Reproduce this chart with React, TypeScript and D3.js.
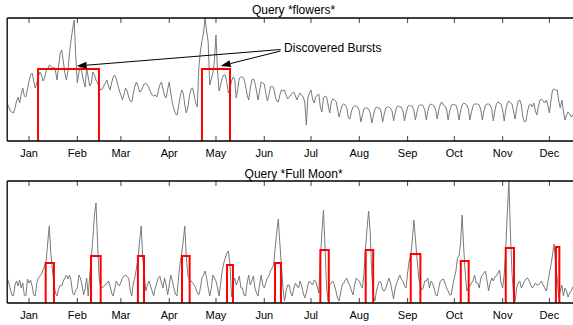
import React from 'react';
import * as d3 from 'd3';

const START = Date.UTC(2001, 11, 18);
const DAY = 864e5;

const monthStart = Date.UTC(2002, 0, 1);
const monthEnd = Date.UTC(2003, 0, 1);

const flowersTitle = 'Query *flowers*';
const moonTitle = 'Query *Full Moon*';
const annotationText = 'Discovered Bursts';

const flowers = [
  38, 34, 30, 29, 28, 33, 40, 44, 38, 47,
  53, 45, 44, 52, 60, 66, 68, 60, 53, 58,
  65, 69, 66, 60, 63, 70, 72, 76, 75, 72,
  74, 70, 61, 75, 88, 91, 80, 68, 61, 70,
  88, 101, 112, 121, 85, 58, 68, 76, 68, 60,
  54, 73, 64, 55, 58, 69, 66, 61, 58, 54,
  51, 52, 55, 58, 61, 55, 51, 58, 64, 66,
  62, 56, 50, 46, 41, 47, 53, 50, 44, 40,
  39, 48, 55, 59, 55, 49, 50, 54, 57, 58,
  56, 53, 49, 46, 45, 46, 44, 50, 56, 59,
  52, 45, 43, 52, 59, 48, 38, 32, 27, 26,
  35, 44, 51, 48, 36, 28, 34, 45, 52, 53,
  46, 38, 34, 73, 90, 100, 108, 123, 110, 99,
  56, 62, 68, 80, 106, 70, 50, 56, 63, 66,
  66, 58, 48, 52, 60, 64, 62, 43, 52, 63,
  64, 64, 62, 55, 46, 41, 52, 61, 62, 58, 50,
  41, 50, 59, 58, 57, 48, 40, 46, 54, 55,
  53, 45, 40, 39, 46, 51, 50, 51, 46, 42,
  44, 46, 48, 49, 45, 41, 45, 48, 46, 44,
  39, 16, 43, 48, 51, 42, 38, 44, 46, 47,
  34, 29, 43, 45, 44, 36, 28, 39, 42, 41,
  40, 32, 24, 30, 36, 37, 36, 33, 23, 22,
  30, 34, 35, 35, 34, 30, 19, 26, 32, 33,
  33, 32, 28, 18, 25, 32, 34, 33, 33, 29,
  19, 27, 33, 34, 34, 33, 30, 20, 28, 34,
  35, 34, 34, 30, 20, 28, 34, 36, 35, 35,
  31, 21, 29, 35, 36, 36, 35, 31, 21, 30,
  36, 37, 36, 35, 31, 22, 31, 37, 39, 36,
  35, 32, 21, 30, 35, 37, 36, 36, 31, 21,
  30, 36, 38, 37, 36, 32, 21, 29, 35, 37,
  37, 37, 36, 31, 21, 30, 36, 37, 37, 36, 32,
  20, 30, 37, 39, 38, 37, 31, 20, 31, 38,
  40, 38, 37, 30, 22, 33, 40, 41, 36, 24,
  19, 20, 30, 36, 37, 34, 38, 30, 26, 35,
  41, 42, 40, 38, 41, 36, 28, 40, 51, 52,
  51, 51, 40, 33, 41, 30, 21, 26, 29, 27,
  24, 26, 28, 30,
];

const fullMoon = [
  25, 20, 14, 8, 7, 18, 22, 17, 23, 15,
  20, 8, 7, 24, 20, 23, 17, 8, 7, 20,
  25, 27, 29, 33, 37, 42, 60, 77, 50, 34,
  19, 10, 7, 14, 18, 17, 22, 25, 28, 24,
  28, 22, 10, 8, 13, 15, 28, 25, 18, 8,
  14, 25, 7, 28, 45, 65, 88, 100, 60, 25,
  16, 15, 17, 18, 20, 22, 17, 10, 7, 14,
  22, 19, 17, 21, 25, 27, 28, 26, 25, 12,
  7, 20, 26, 35, 45, 62, 77, 45, 28, 12,
  18, 22, 17, 12, 7, 15, 20, 25, 27, 20,
  15, 25, 18, 8, 18, 28, 22, 15, 9, 7,
  26, 40, 50, 62, 77, 45, 27, 24, 22, 20,
  18, 15, 10, 8, 15, 25, 28, 32, 25, 15,
  7, 15, 28, 25, 22, 15, 7, 20, 32, 40,
  45, 50, 52, 38, 6, 20, 25, 18, 22, 27,
  15, 15, 8, 7, 20, 28, 18, 22, 27, 15, 10,
  7, 18, 28, 18, 15, 20, 25, 27, 32, 35,
  38, 55, 70, 84, 60, 38, 15, 2, 12, 18,
  18, 10, 7, 15, 20, 17, 15, 22, 17, 10,
  5, 10, 18, 22, 20, 18, 23, 22, 16, 10,
  45, 70, 93, 55, 15, 2, 18, 20, 22, 18,
  12, 5, 2, 10, 18, 20, 23, 25, 20, 17,
  12, 8, 18, 25, 23, 22, 18, 15, 30, 55,
  75, 92, 70, 30, 8, 2, 12, 18, 22, 20,
  13, 12, 15, 20, 25, 20, 12, 4, 15, 20,
  24, 28, 24, 22, 17, 15, 30, 42, 48, 62,
  83, 65, 45, 27, 18, 13, 15, 22, 22, 25,
  15, 22, 20, 15, 8, 7, 15, 22, 23, 24,
  20, 15, 12, 8, 8, 18, 25, 32, 45, 47,
  60, 88, 55, 30, 12, 15, 17, 20, 22, 28,
  20, 20, 15, 25, 28, 30, 32, 22, 12, 20, 25,
  22, 26, 27, 30, 33, 20, 15, 28, 55, 90,
  122, 70, 30, 8, 2, 15, 20, 22, 15, 18,
  22, 24, 25, 22, 18, 15, 17, 20, 18, 18,
  20, 22, 18, 15, 12, 20, 30, 38, 48, 59,
  40, 25, 5, 12, 18, 7, 15, 12, 6, 10,
  12, 16, 14, 10,
];

// burst intervals: [start day, end day, level]
const flowersBursts: [number, number, number][] = [
  [19.8, 58.9, 72],
  [125.0, 143.0, 72],
];

const moonBursts: [number, number, number][] = [
  [24.7, 30.0, 40],
  [53.8, 60.0, 47],
  [83.9, 87.8, 47],
  [112.2, 117.1, 47],
  [141.1, 144.9, 38],
  [171.9, 175.7, 40],
  [201.0, 206.4, 53],
  [230.1, 234.9, 53],
  [259.0, 265.2, 49],
  [291.1, 296.2, 42],
  [320.0, 325.3, 55],
  [352.2, 354.4, 56],
];

// annotation in data space: text anchor and arrow tips [day, value]
const annotationAnchor: [number, number] = [177.7, 89];
const arrowFrom: [number, number][] = [[175.5, 91.5], [175.5, 90]];
const arrowTips: [number, number][] = [[44.6, 75], [137.0, 75]];

const W = 573;
const H = 325;
const X0 = 7.2;
const PX_PER_DAY = 1.558;

const dayDate = (d: number) => new Date(START + d * DAY);

const x = d3
  .scaleUtc()
  .domain([dayDate(0), dayDate(366)])
  .range([X0, X0 + 366 * PX_PER_DAY]);

const months = d3.utcMonth.range(new Date(monthStart), new Date(monthEnd));
const fmt = d3.utcFormat('%b');

const FONT = 'Liberation Sans, Arial, Helvetica, sans-serif';

type PanelProps = {
  id: string;
  title: string;
  values: number[];
  bursts: [number, number, number][];
  top: number;
  bottom: number;
  yMax: number;
  titleY: number;
  annotate?: boolean;
};

function Panel({ id, title, values, bursts, top, bottom, yMax, titleY, annotate }: PanelProps) {
  const y = d3.scaleLinear().domain([0, yMax]).range([bottom, top]);
  const line = d3
    .line<number>()
    .x((_, i) => x(dayDate(i)))
    .y((v) => y(v));
  const left = X0;
  const right = W;

  const burstPaths = bursts.map(([s, e, lvl]) => {
    const p = d3.path();
    p.moveTo(x(dayDate(s)), y(0));
    p.lineTo(x(dayDate(s)), y(lvl));
    p.lineTo(x(dayDate(e)), y(lvl));
    p.lineTo(x(dayDate(e)), y(0));
    return p.toString();
  });

  const arrows = annotate
    ? arrowTips.map((tip, k) => {
        const fx = x(dayDate(arrowFrom[k][0]));
        const fy = y(arrowFrom[k][1]);
        const tx = x(dayDate(tip[0]));
        const ty = y(tip[1]);
        const ang = Math.atan2(ty - fy, tx - fx);
        const len = 10;
        const hw = 3.5;
        const bx = tx - len * Math.cos(ang);
        const by = ty - len * Math.sin(ang);
        const px = -Math.sin(ang) * hw;
        const py = Math.cos(ang) * hw;
        return (
          <g key={k}>
            <line x1={fx} y1={fy} x2={bx} y2={by} stroke="#000" strokeWidth={1} />
            <polygon
              points={`${tx},${ty} ${bx + px},${by + py} ${bx - px},${by - py}`}
              fill="#000"
            />
          </g>
        );
      })
    : null;

  return (
    <g>
      <defs>
        <clipPath id={id}>
          <rect x={left} y={top - 2} width={right - left} height={bottom - top + 2} />
        </clipPath>
      </defs>
      <text
        x={(left + 580) / 2}
        y={titleY}
        textAnchor="middle"
        fontFamily={FONT}
        fontSize={12}
        fill="#000"
      >
        {title}
      </text>
      <g clipPath={`url(#${id})`}>
        <path d={line(values) || ''} fill="none" stroke="#7a7a7a" strokeWidth={1} />
        {burstPaths.map((d, i) => (
          <path key={i} d={d} fill="none" stroke="#ff0000" strokeWidth={2} />
        ))}
      </g>
      {months.map((m, i) => (
        <g key={i}>
          <line x1={x(m)} x2={x(m)} y1={top} y2={top + 5} stroke="#444" strokeWidth={1} />
          <line x1={x(m)} x2={x(m)} y1={bottom} y2={bottom - 5} stroke="#444" strokeWidth={1} />
          <text
            x={x(m)}
            y={bottom + 16}
            textAnchor="middle"
            fontFamily={FONT}
            fontSize={11}
            fill="#000"
          >
            {fmt(m)}
          </text>
        </g>
      ))}
      <line x1={left} x2={right} y1={top} y2={top} stroke="#000" strokeWidth={1.3} />
      <line x1={left} x2={right} y1={bottom} y2={bottom} stroke="#000" strokeWidth={1.6} />
      <line x1={left} x2={left} y1={top} y2={bottom} stroke="#000" strokeWidth={1.3} />
      {annotate && (
        <g>
          {arrows}
          <text
            x={x(dayDate(annotationAnchor[0]))}
            y={y(annotationAnchor[1])}
            fontFamily={FONT}
            fontSize={12}
            fill="#000"
          >
            {annotationText}
          </text>
        </g>
      )}
    </g>
  );
}

export default function App() {
  return (
    <svg
      width={W}
      height={H}
      style={{ position: 'absolute', left: 0, top: 0, background: '#fff' }}
    >
      <rect x={0} y={0} width={W} height={H} fill="#fff" />
      <Panel
        id="clipA"
        title={flowersTitle}
        values={flowers}
        bursts={flowersBursts}
        top={18}
        bottom={141}
        yMax={123}
        titleY={14}
        annotate
      />
      <Panel
        id="clipB"
        title={moonTitle}
        values={fullMoon}
        bursts={moonBursts}
        top={181}
        bottom={303}
        yMax={122}
        titleY={178}
      />
    </svg>
  );
}
